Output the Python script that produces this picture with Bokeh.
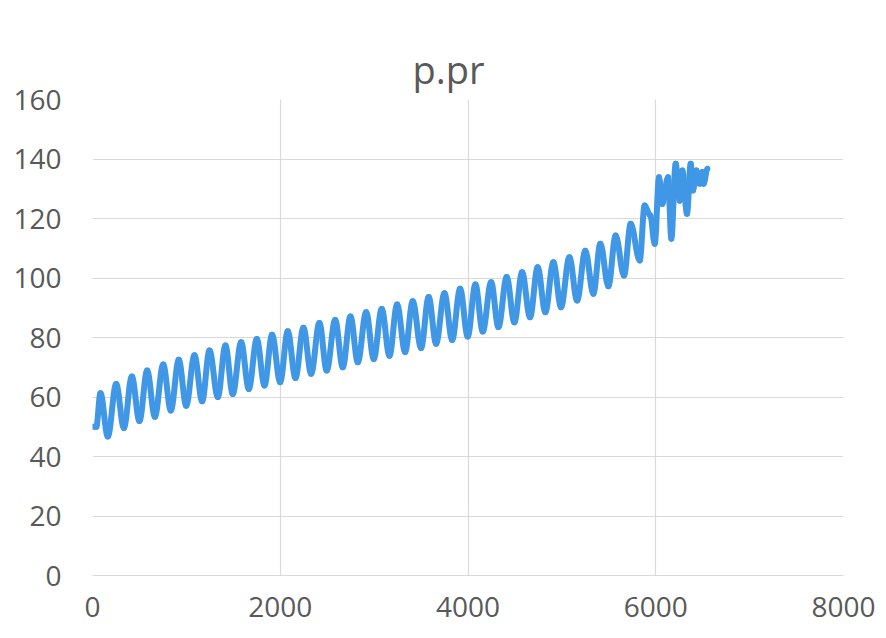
from bokeh.plotting import figure
from bokeh.models import Range1d, FixedTicker
from bokeh.embed import file_html
from bokeh.resources import INLINE

title_text = "p.pr"
x_ticks = [0, 2000, 4000, 6000, 8000]
y_ticks = [0, 20, 40, 60, 80, 100, 120, 140, 160]

# values (turning points of the series)
x_vals = [0, 40, 85, 163, 252, 334, 419, 500, 582, 664, 753, 834, 919, 998,
          1086, 1168, 1246, 1335, 1416, 1494, 1583, 1665, 1750, 1832, 1913,
          1999, 2080, 2162, 2247, 2329, 2417, 2495, 2585, 2666, 2748, 2826,
          2915, 2996, 3081, 3163, 3245, 3330, 3411, 3500, 3581, 3660, 3749,
          3831, 3916, 3997, 4079, 4157, 4246, 4324, 4412, 4494, 4576, 4661,
          4742, 4824, 4909, 4991, 5080, 5162, 5250, 5335, 5410, 5495, 5573,
          5662, 5733, 5829, 5882, 5942, 5989, 6035, 6070, 6131, 6166, 6212,
          6255, 6283, 6333, 6372, 6397, 6432, 6468, 6496, 6510, 6550]
y_vals = [50, 50, 61.3, 46.7, 64.4, 49.6, 66.9, 51.9, 68.9, 53.4, 70.9, 55.5,
          72.5, 57.1, 74, 58.6, 75.6, 60, 77.3, 61, 78.4, 62.7, 79.5, 63.9,
          80.9, 65, 82.1, 66.4, 83.3, 67.8, 84.9, 68.9, 85.9, 70, 87.1, 71.7,
          88.5, 72.8, 89.6, 73.9, 91.1, 75.1, 92.2, 76.5, 93.6, 77.9, 94.9,
          79.2, 96.4, 80.3, 97.8, 82, 98.6, 83.5, 100.3, 85.1, 101.9, 86.8,
          103.6, 88.5, 105.3, 90.2, 107, 92.4, 109.2, 94.7, 111.5, 97.2,
          114.3, 100.8, 118.2, 105.9, 124.4, 121, 111.5, 133.9, 124.9, 133.9,
          113.2, 138.4, 126, 136.1, 121.6, 138.4, 129.4, 136.1, 131.7, 135.6,
          131.7, 136.7]

FONT = "Open Sans"
TXT = "#595959"
GRID = "#d9d9d9"
LINE = "#3f97e6"

p = figure(width=886, height=638, output_backend="svg", toolbar_location=None,
           x_range=Range1d(0, 8000), y_range=Range1d(0, 160),
           min_border_left=92, min_border_right=43, min_border_top=99,
           min_border_bottom=63)
p.title.text = title_text
p.title.text_font = FONT
p.title.text_font_size = "38px"
p.title.text_font_style = "normal"
p.title.text_color = TXT
p.title.align = "left"
p.title.offset = 320
p.title.standoff = 10
p.outline_line_color = None
p.background_fill_color = "white"
p.border_fill_color = "white"

# smooth curve through the turning points (horizontal tangents at each point)
k = 0.36
x0 = x_vals[:-1]
x1 = x_vals[1:]
y0 = y_vals[:-1]
y1 = y_vals[1:]
cx0 = [a + (b - a) * k for a, b in zip(x0, x1)]
cx1 = [b - (b - a) * k for a, b in zip(x0, x1)]
p.bezier(x0=x0, y0=y0, x1=x1, y1=y1, cx0=cx0, cy0=y0, cx1=cx1, cy1=y1,
         line_color=LINE, line_width=6, line_cap="round")

for ax in (p.xaxis[0], p.yaxis[0]):
    ax.major_label_text_font = FONT
    ax.major_label_text_font_size = "28px"
    ax.major_label_text_color = TXT
    ax.major_tick_line_color = None
    ax.minor_tick_line_color = None
    ax.axis_line_color = GRID

p.xaxis.ticker = FixedTicker(ticks=x_ticks)
p.yaxis.ticker = FixedTicker(ticks=y_ticks)
p.xaxis.major_label_standoff = 15
p.yaxis.major_label_standoff = 25
p.yaxis.axis_line_color = None

p.xgrid.ticker = FixedTicker(ticks=x_ticks)
p.ygrid.ticker = FixedTicker(ticks=y_ticks)
p.xgrid.grid_line_color = GRID
p.ygrid.grid_line_color = GRID
p.xgrid.grid_line_width = 1.2
p.ygrid.grid_line_width = 1.2

open("out.html", "w").write(file_html(p, INLINE))
